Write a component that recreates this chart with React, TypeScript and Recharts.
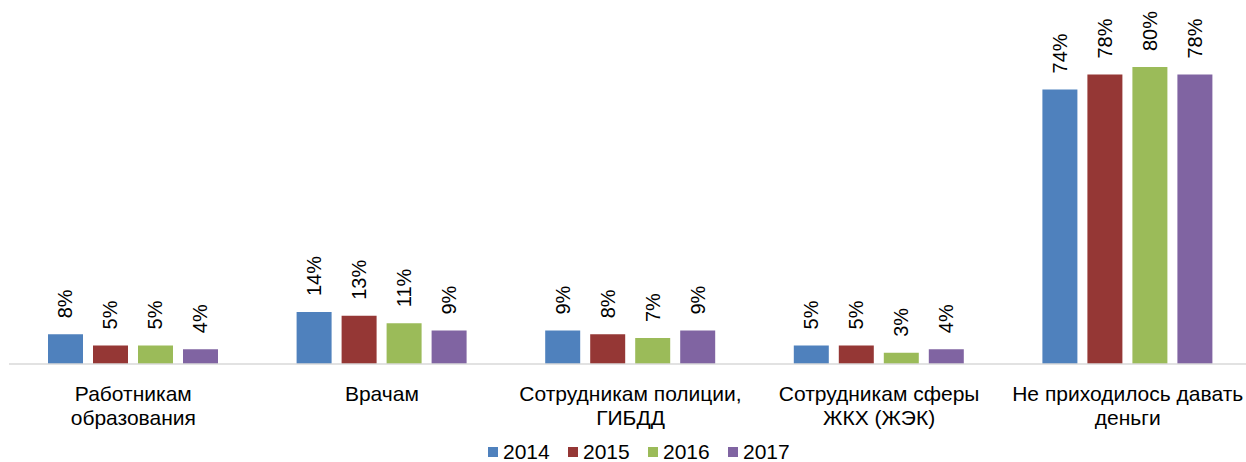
import React from "react";
import { BarChart, Bar, XAxis, YAxis, Legend, LabelList } from "recharts";

const categories = [
  "Работникам\nобразования",
  "Врачам",
  "Сотрудникам полиции,\nГИБДД",
  "Сотрудникам сферы\nЖКХ (ЖЭК)",
  "Не приходилось давать\nденьги",
];
const years = ["2014", "2015", "2016", "2017"];
const values2014 = [8, 14, 9, 5, 74];
const values2015 = [5, 13, 8, 5, 78];
const values2016 = [5, 11, 7, 3, 80];
const values2017 = [4, 9, 9, 4, 78];
const colors = ["#4F81BD", "#953735", "#9BBB59", "#8064A2"];

const series = [values2014, values2015, values2016, values2017];
const data = categories.map((c, i) => {
  const row: Record<string, string | number> = { name: c };
  years.forEach((y, j) => {
    row[y] = series[j][i];
  });
  return row;
});

const font = "Arial, 'Liberation Sans', sans-serif";

const CategoryTick = (props: any) => {
  const { x, y, payload } = props;
  const lines = String(payload.value).split("\n");
  return (
    <g transform={`translate(${x},${y})`}>
      {lines.map((l, i) => (
        <text
          key={i}
          x={0}
          y={21 + i * 24}
          textAnchor="middle"
          dominantBaseline="central"
          fontSize={21}
          fontFamily={font}
          fill="#000"
        >
          {l}
        </text>
      ))}
    </g>
  );
};

const ValueLabel = (props: any) => {
  const { x, y, width, value } = props;
  const cx = x + width / 2;
  const ty = y - 16;
  return (
    <text
      x={cx}
      y={ty}
      transform={`rotate(-90 ${cx} ${ty})`}
      textAnchor="start"
      dominantBaseline="central"
      fontSize={20}
      fontFamily={font}
      fill="#000"
    >
      {value}%
    </text>
  );
};

const LegendContent = () => (
  <div style={{ display: "flex", justifyContent: "center", paddingLeft: 35, paddingTop: 3, fontFamily: font, fontSize: 21, lineHeight: "26px" }}>
    {years.map((y, i) => (
      <div key={y} style={{ display: "flex", alignItems: "center", width: 80 }}>
        <span style={{ display: "inline-block", width: 10, height: 10, background: colors[i], marginRight: 5 }} />
        <span>{y}</span>
      </div>
    ))}
  </div>
);

export default function App() {
  return (
    <div style={{ position: "absolute", left: 0, top: 0, width: 1246, height: 462, overflow: "hidden", background: "#fff" }}>
      <BarChart
        width={1262}
        height={462}
        data={data}
        margin={{ top: 30, right: 10, left: 9, bottom: 0 }}
        barCategoryGap={39}
        barGap={10}
      >
        <XAxis
          dataKey="name"
          interval={0}
          tickLine={false}
          axisLine={{ stroke: "#D9D9D9", strokeWidth: 1.5 }}
          height={72}
          tick={<CategoryTick />}
        />
        <YAxis hide domain={[0, 90]} />
        <Legend verticalAlign="bottom" height={26} content={<LegendContent />} />
        {years.map((y, i) => (
          <Bar key={y} dataKey={y} fill={colors[i]} isAnimationActive={false}>
            <LabelList dataKey={y} content={<ValueLabel />} />
          </Bar>
        ))}
      </BarChart>
    </div>
  );
}
